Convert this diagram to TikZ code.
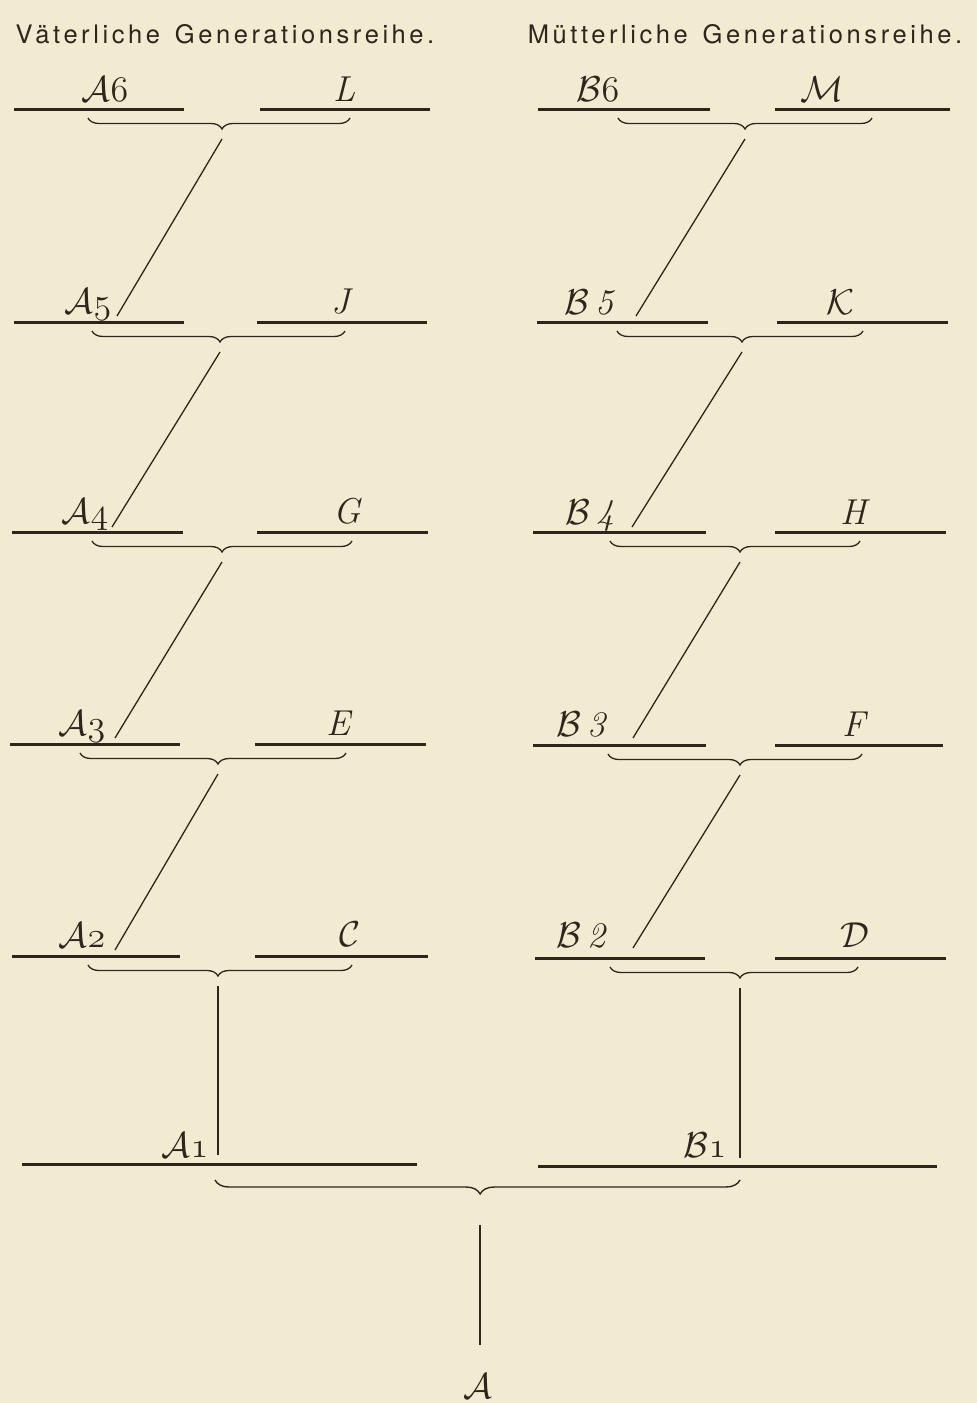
\RequirePackage{fix-cm}
\documentclass[tikz,border=0pt]{standalone}
\usepackage{fontspec}
\newfontfamily\titlefont[LetterSpace=14]{TeX Gyre Heros}
\usetikzlibrary{decorations.pathreplacing}
\definecolor{paper}{HTML}{F3EBD1}
\definecolor{ink}{HTML}{2E251D}
\newcommand{\osn}[1]{$\mathnormal{#1}$}
\tikzset{
  gen/.style={line width=3pt, draw=ink},
  brc/.style={draw=ink, line width=1.3pt, decorate, decoration={brace,mirror,amplitude=11pt,aspect=#1}},
  bigbrc/.style={draw=ink, line width=1.4pt, decorate, decoration={brace,mirror,amplitude=14pt,aspect=0.505}},
  link/.style={draw=ink, line width=1.3pt},
  lbl/.style={text=ink, font=\fontsize{36}{40}\selectfont, inner sep=0pt, anchor=base},
  ttl/.style={text=ink, font=\titlefont\fontsize{25.5}{28}\selectfont, inner sep=0pt, anchor=base}
}
\begin{document}
\begin{tikzpicture}[x=1pt,y=-1pt]
\fill[paper] (0,0) rectangle (977,1403);
\useasboundingbox (0,0) rectangle (977,1403);

\node[ttl] (t1) at (225,43) {V\"aterliche\, Generationsreihe.};
\node[ttl] (t2) at (745,43) {M\"utterliche\, Generationsreihe.};

% rows: name / y / left line / right line / brace / tip x
\foreach \n/\y/\la/\lb/\ra/\rb/\ba/\bb/\tx in {
  a6/109/14/184/260/430/88/350/222,
  a5/322/14/184/257/427/92/345/220,
  a4/532/12/183/257/428/92/352/222,
  a3/744/10/180/255/426/80/346/218,
  a2/956/12/180/255/428/88/352/218,
  b6/109/538/710/775/950/618/872/745,
  b5/322/537/708/777/948/617/863/742,
  b4/532/533/706/775/946/610/860/740,
  b3/745/533/706/775/943/608/862/740,
  b2/958/535/705/775/946/610/858/740}{
  \pgfmathsetmacro{\asp}{(\tx-\ba)/(\bb-\ba)}
  \coordinate (\n-ll) at (\la,\y);
  \coordinate (\n-lr) at (\lb,\y);
  \coordinate (\n-rl) at (\ra,\y);
  \coordinate (\n-rr) at (\rb,\y);
  \coordinate (\n-ba) at (\ba,\y+9);
  \coordinate (\n-bb) at (\bb,\y+9);
  \coordinate (\n-tip) at (\tx,\y+30);
  \draw[gen] (\n-ll) -- (\n-lr);
  \draw[gen] (\n-rl) -- (\n-rr);
  \draw[brc=\asp] (\n-ba) -- (\n-bb);
}

% labels
\node[lbl] (la6) at (105,101) {$\mathcal{A}$\osn{6}};
\node[lbl] (ll)  at (345,101) {\textit{L}};
\node[lbl] (lb6) at (598,101) {$\mathcal{B}$\osn{6}};
\node[lbl] (lm)  at (822,101) {$\mathcal{M}$};
\node[lbl] (la5) at (88,313) {$\mathcal{A}$\osn{5}};
\node[lbl] (lj)  at (342,313) {\textit{J}};
\node[lbl] (lb5) at (590,314) {$\mathcal{B}$\,\textit{5}};
\node[lbl] (lk)  at (840,314) {$\mathcal{K}$};
\node[lbl] (la4) at (85,523) {$\mathcal{A}$\osn{4}};
\node[lbl] (lg)  at (348,523) {\textit{G}};
\node[lbl] (lb4) at (590,524) {$\mathcal{B}$\,\textit{4}};
\node[lbl] (lh)  at (855,524) {\textit{H}};
\node[lbl] (la3) at (82,735) {$\mathcal{A}$\osn{3}};
\node[lbl] (le)  at (340,735) {\textit{E}};
\node[lbl] (lb3) at (582,736) {$\mathcal{B}$\,\textit{3}};
\node[lbl] (lf)  at (855,736) {\textit{F}};
\node[lbl] (la2) at (82,947) {$\mathcal{A}$\osn{2}};
\node[lbl] (lc)  at (350,946) {$\mathcal{C}$};
\node[lbl] (lb2) at (582,947) {$\mathcal{B}$\,\textit{2}};
\node[lbl] (ld)  at (855,947) {$\mathcal{D}$};
\node[lbl] (la1) at (185,1157) {$\mathcal{A}$\osn{1}};
\node[lbl] (lb1) at (705,1157) {$\mathcal{B}$\osn{1}};
\node[lbl] (la)  at (478,1398) {$\mathcal{A}$};

% diagonal links
\coordinate (d5) at (117,316);
\coordinate (d4) at (112,527);
\coordinate (d3) at (115,738);
\coordinate (d2) at (115,950);
\coordinate (e5) at (636,316);
\coordinate (e4) at (632,527);
\coordinate (e3) at (633,738);
\coordinate (e2) at (633,948);
\draw[link] (a6-tip) -- (d5);
\draw[link] (a5-tip) -- (d4);
\draw[link] (a4-tip) -- (d3);
\draw[link] (a3-tip) -- (d2);
\draw[link] (b6-tip) -- (e5);
\draw[link] (b5-tip) -- (e4);
\draw[link] (b4-tip) -- (e3);
\draw[link] (b3-tip) -- (e2);

% first generation
\coordinate (a1v) at (218,1155);
\coordinate (b1v) at (740,1158);
\draw[link] (a2-tip) -- (a1v);
\draw[link] (b2-tip) -- (b1v);
\coordinate (a1l) at (22,1164);
\coordinate (a1r) at (417,1164);
\coordinate (b1l) at (538,1166);
\coordinate (b1r) at (937,1166);
\draw[gen] (a1l) -- (a1r);
\draw[gen] (b1l) -- (b1r);
\coordinate (ba) at (215,1180);
\coordinate (bb) at (740,1180);
\draw[bigbrc] (ba) -- (bb);
\coordinate (atop) at (480,1225);
\coordinate (abot) at (480,1345);
\draw[link] (atop) -- (abot);
\end{tikzpicture}
\end{document}
